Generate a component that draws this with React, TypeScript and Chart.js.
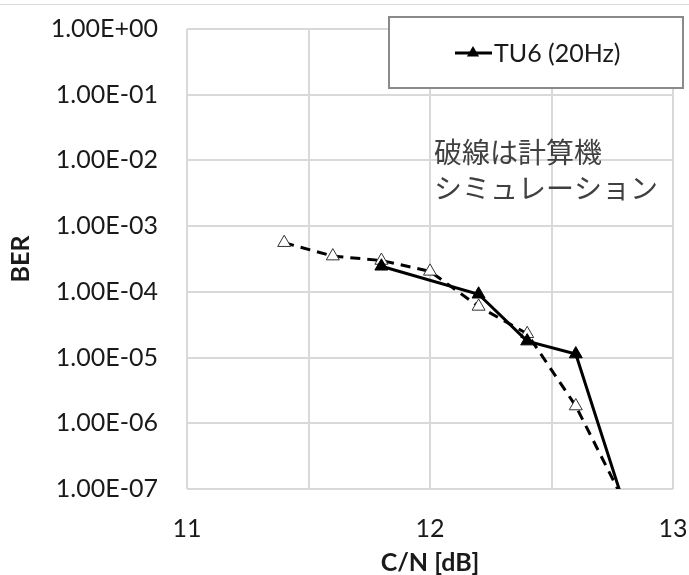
import { useEffect, useRef } from 'react';
import { Chart, registerables } from 'chart.js';

Chart.register(...registerables);

// Measured (solid, filled triangles)
const measuredCN = [11.8, 12.2, 12.4, 12.6, 12.8];
const measuredBER = [2.45e-4, 9.2e-5, 1.78e-5, 1.13e-5, 5.6e-8];
// Computer simulation (dashed, open triangles)
const simCN = [11.4, 11.6, 11.8, 12.0, 12.2, 12.4, 12.6, 12.8];
const simBER = [5.6e-4, 3.5e-4, 3.0e-4, 2.05e-4, 6.0e-5, 2.3e-5, 1.83e-6, 6.3e-8];

const yTickValues = [1, 1e-1, 1e-2, 1e-3, 1e-4, 1e-5, 1e-6, 1e-7];
const yTickLabels = ['1.00E+00', '1.00E-01', '1.00E-02', '1.00E-03', '1.00E-04', '1.00E-05', '1.00E-06', '1.00E-07'];
const xGridValues = [11, 11.5, 12, 12.5, 13];
const xTickValues = [11, 12, 13];
const xTickLabels = ['11', '12', '13'];

const seriesLabel = 'TU6 (20Hz)';
const simLabel = '計算機シミュレーション';
const noteLines = ['破線は計算機', 'シミュレーション'];
const xTitle = 'C/N [dB]';
const yTitle = 'BER';

const LATIN = 'Lato, "Liberation Sans", sans-serif';
const CJK = '"Noto Sans CJK JP", sans-serif';

const zeroPad = (s: any) => {
  s.paddingLeft = 0;
  s.paddingRight = 0;
  s.paddingTop = 0;
  s.paddingBottom = 0;
};

const decorPlugin = {
  id: 'decor',
  beforeDraw(chart: any) {
    const ctx = chart.ctx;
    ctx.save();
    ctx.strokeStyle = '#d9d9d9';
    ctx.lineWidth = 1;
    ctx.beginPath();
    ctx.moveTo(0, 4.5);
    ctx.lineTo(chart.width, 4.5);
    ctx.stroke();
    ctx.restore();
  },
  afterDraw(chart: any) {
    const ctx = chart.ctx;
    ctx.save();
    // legend box
    const bx = 389, by = 17, bw = 294, bh = 71;
    ctx.fillStyle = '#ffffff';
    ctx.fillRect(bx, by, bw, bh);
    ctx.strokeStyle = '#8a8a8a';
    ctx.lineWidth = 2;
    ctx.strokeRect(bx, by, bw, bh);
    const ds = chart.data.datasets[0];
    const ly = 53;
    ctx.strokeStyle = ds.borderColor;
    ctx.lineWidth = ds.borderWidth;
    ctx.beginPath();
    ctx.moveTo(455, ly);
    ctx.lineTo(492, ly);
    ctx.stroke();
    ctx.fillStyle = ds.pointBackgroundColor;
    ctx.beginPath();
    const r = 7;
    ctx.moveTo(473, ly - r);
    ctx.lineTo(473 + r * 0.87, ly + r * 0.5);
    ctx.lineTo(473 - r * 0.87, ly + r * 0.5);
    ctx.closePath();
    ctx.fill();
    ctx.fillStyle = '#1a1a1a';
    ctx.font = '25px ' + LATIN;
    ctx.textBaseline = 'middle';
    ctx.textAlign = 'left';
    ctx.fillText(ds.label, 494, ly + 1);
    // annotation
    ctx.fillStyle = '#404040';
    ctx.font = '28px ' + CJK;
    ctx.fillText(noteLines[0], 434, 152);
    ctx.fillText(noteLines[1], 434, 188);
    ctx.restore();
  },
};

export default function App() {
  const ref = useRef<HTMLCanvasElement | null>(null);
  useEffect(() => {
    if (!ref.current) return;
    const chart = new Chart(ref.current, {
      type: 'line',
      data: {
        datasets: [
          {
            label: seriesLabel,
            data: measuredCN.map((x, i) => ({ x, y: measuredBER[i] })),
            borderColor: '#000000',
            borderWidth: 3,
            pointStyle: 'triangle',
            pointRadius: 7.5,
            pointBackgroundColor: '#000000',
            pointBorderColor: '#000000',
            pointBorderWidth: 1,
            tension: 0,
            clip: 0,
          } as any,
          {
            label: simLabel,
            data: simCN.map((x, i) => ({ x, y: simBER[i] })),
            borderColor: '#000000',
            borderWidth: 3,
            borderDash: [10, 7],
            pointStyle: 'triangle',
            pointRadius: 7.5,
            pointBackgroundColor: '#ffffff',
            pointBorderColor: '#333333',
            pointBorderWidth: 1,
            tension: 0,
            clip: 0,
          } as any,
        ],
      },
      options: {
        responsive: false,
        animation: false,
        devicePixelRatio: 1,
        layout: { padding: { top: 29, right: 16, left: 0, bottom: 0 } },
        plugins: { legend: { display: false }, tooltip: { enabled: false } },
        scales: {
          x: {
            type: 'linear',
            min: 11,
            max: 13,
            afterBuildTicks: (s: any) => {
              s.ticks = xGridValues.map((v) => ({ value: v }));
            },
            afterFit: (s: any) => {
              s.height = 86;
              zeroPad(s);
            },
            ticks: {
              autoSkip: false,
              maxRotation: 0,
              padding: 25,
              color: '#1a1a1a',
              font: { family: LATIN, size: 25 },
              callback: (v: any) => {
                const i = xTickValues.indexOf(Number(v));
                return i >= 0 ? xTickLabels[i] : '';
              },
            },
            grid: { color: '#d9d9d9', lineWidth: 2, drawTicks: false },
            border: { display: false },
            title: {
              display: true,
              text: xTitle,
              color: '#1a1a1a',
              font: { family: LATIN, size: 25, weight: 'bold', lineHeight: 1 },
              padding: { top: 0, bottom: 0 },
            },
          },
          y: {
            type: 'logarithmic',
            min: 1e-7,
            max: 1,
            afterBuildTicks: (s: any) => {
              s.ticks = yTickValues.map((v) => ({ value: v }));
            },
            afterFit: (s: any) => {
              s.width = 187;
              zeroPad(s);
            },
            ticks: {
              autoSkip: false,
              padding: 29,
              color: '#1a1a1a',
              font: { family: LATIN, size: 25 },
              callback: (v: any) => {
                const i = yTickValues.findIndex((t) => Math.abs(Math.log10(t) - Math.log10(Number(v))) < 1e-6);
                return i >= 0 ? yTickLabels[i] : '';
              },
            },
            grid: { color: '#d9d9d9', lineWidth: 2, drawTicks: false },
            border: { display: false },
            title: {
              display: true,
              text: yTitle,
              color: '#1a1a1a',
              font: { family: LATIN, size: 25, weight: 'bold', lineHeight: 1 },
              padding: { top: 8, bottom: 0 },
            },
          },
        },
      } as any,
      plugins: [decorPlugin],
    });
    return () => chart.destroy();
  }, []);
  return (
    <div style={{ position: 'fixed', left: 0, top: 0, width: 689, height: 575, background: '#fff' }}>
      <canvas ref={ref} width={689} height={575} style={{ display: 'block', width: 689, height: 575 }} />
    </div>
  );
}
